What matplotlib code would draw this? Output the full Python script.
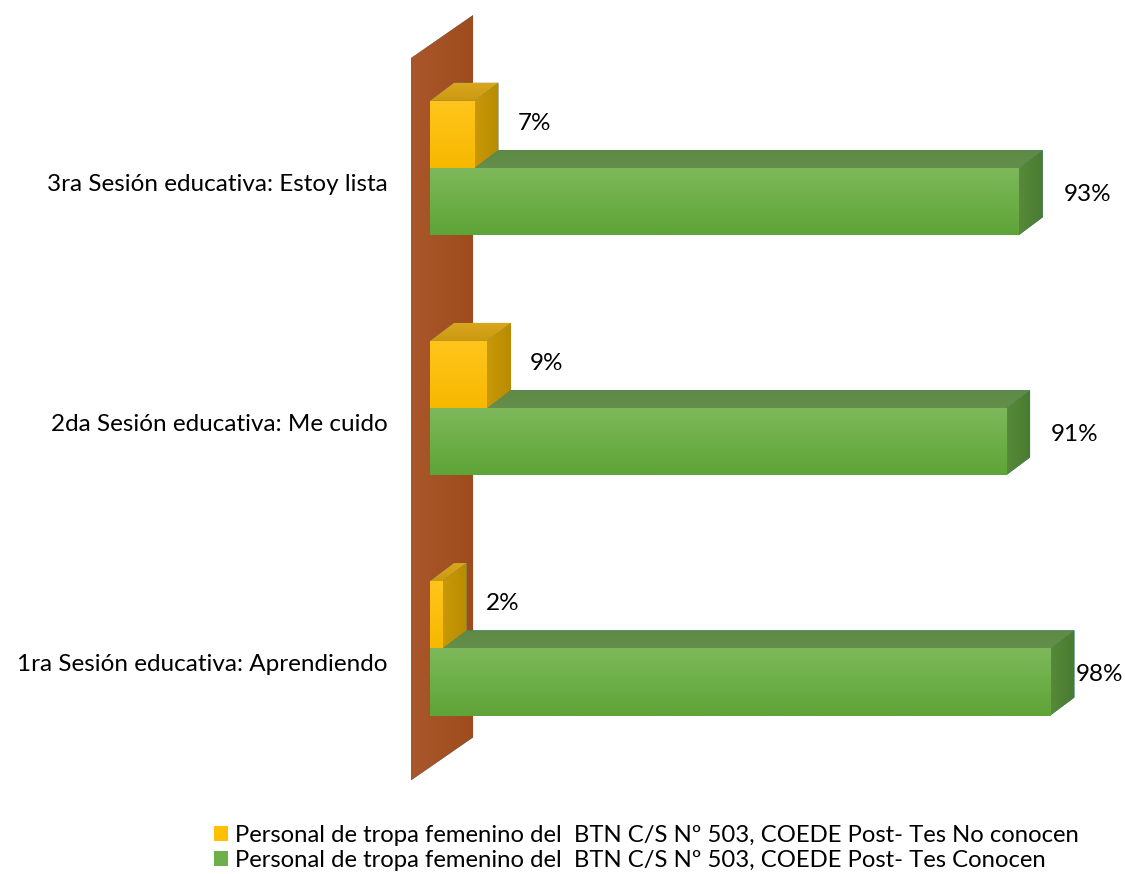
import numpy as np
import matplotlib.pyplot as plt
from matplotlib.patches import Polygon, Patch
from matplotlib.colors import LinearSegmentedColormap

# --- data ---
categories = ["1ra Sesión educativa: Aprendiendo",
              "2da Sesión educativa: Me cuido",
              "3ra Sesión educativa: Estoy lista"]
no_conocen = [2, 9, 7]
conocen = [98, 91, 93]
series_labels = ["Personal de tropa femenino del  BTN C/S Nº 503, COEDE Post- Tes No conocen",
                 "Personal de tropa femenino del  BTN C/S Nº 503, COEDE Post- Tes Conocen"]

plt.rcParams['font.family'] = ['Lato', 'DejaVu Sans']

W, H = 1125, 874
fig = plt.figure(figsize=(W / 100, H / 100), dpi=100)
ax = fig.add_axes([411 / W, 0, 1 - 411 / W, 1])

XMIN, XMAX = -3.0, 109.8
YMIN, YMAX = -0.94, 2.70
bar_h = 0.28
dx, dy = 3.8, 0.075          # depth of the bars
wall_dx, wall_dy = 9.8, 0.179  # depth of the side wall
label_max = 102.0            # keep value labels inside the figure


def shade(patch, c1, c2, z, vertical=True):
    """fill a patch with a linear gradient (c1 top/left -> c2 bottom/right)"""
    patch.set_zorder(z)
    ax.add_patch(patch)
    if isinstance(patch, Polygon):
        verts = patch.get_xy()
    else:
        verts = ax.transData.inverted().transform(patch.get_verts())
    xs, ys = verts[:, 0], verts[:, 1]
    cmap = LinearSegmentedColormap.from_list('g', [c1, c2])
    g = np.linspace(0, 1, 64)
    grad = g.reshape(-1, 1) if vertical else g.reshape(1, -1)
    im = ax.imshow(grad, cmap=cmap, extent=(xs.min(), xs.max(), ys.min(), ys.max()),
                   origin='upper', aspect='auto', zorder=z + 0.01, interpolation='bilinear')
    im.set_clip_path(patch)


def box(y0, v, top, side, z):
    # top face
    shade(Polygon([(0, y0 + bar_h), (v, y0 + bar_h), (v + dx, y0 + bar_h + dy),
                   (dx, y0 + bar_h + dy)], closed=True, lw=0), top[0], top[1], z)
    # side face
    shade(Polygon([(v, y0), (v, y0 + bar_h), (v + dx, y0 + bar_h + dy),
                   (v + dx, y0 + dy)], closed=True, lw=0), side[0], side[1], z, vertical=False)


# side wall (value axis at 0)
wall = Polygon([(XMIN, -0.55), (XMIN, 2.458), (XMIN + wall_dx, 2.458 + wall_dy),
                (XMIN + wall_dx, -0.55 + wall_dy)], closed=True, lw=0)
shade(wall, '#AA582B', '#9E4C1E', 1, vertical=False)

ypos = np.arange(len(categories))

# green bars (below the category line)
for i, v in enumerate(conocen):
    box(i - bar_h, v, ('#5C8A45', '#658F4B'), ('#578A3A', '#4A7A30'), 2)
green = ax.barh(ypos - bar_h / 2, conocen, height=bar_h, left=0, color='#6DAF48', lw=0, zorder=3)
for r in green:
    shade(r, '#7DB95B', '#5EA437', 3)

# yellow bars (above the category line)
for i, v in enumerate(no_conocen):
    box(i, v, ('#D9A61C', '#CC9A10'), ('#C89A08', '#B88A00'), 4)
yellow = ax.barh(ypos + bar_h / 2, no_conocen, height=bar_h, left=0, color='#FFC000', lw=0, zorder=5)
for r in yellow:
    shade(r, '#FFC51C', '#F7B800', 5)

# value labels
for i, (a, b) in enumerate(zip(no_conocen, conocen)):
    ax.text(a + dx + 3.0, i + bar_h / 2 + dy * 0.6, f"{a}%", ha='left', va='center',
            fontsize=17.5, zorder=6)
    ax.text(min(b + dx + 3.3, label_max), i - bar_h / 2 + dy * 0.4, f"{b}%", ha='left',
            va='center', fontsize=17.5, zorder=6)

ax.set_xlim(XMIN, XMAX)
ax.set_ylim(YMIN, YMAX)
ax.set_yticks(ypos - 0.06)
ax.set_yticklabels(categories, fontsize=17.5)
ax.tick_params(axis='y', length=0, pad=17)
ax.set_xticks([])
for s in ax.spines.values():
    s.set_visible(False)
ax.patch.set_alpha(0)

handles = [Patch(facecolor='#FFC000', label=series_labels[0]),
           Patch(facecolor='#6DAF48', label=series_labels[1])]
fig.legend(handles=handles, loc='upper left', bbox_to_anchor=(214 / W, 1 - 825 / H),
           frameon=False, fontsize=17.2, handlelength=0.6, handleheight=0.6,
           handletextpad=0.3, labelspacing=0.18, borderpad=0, borderaxespad=0)

fig.savefig('out.png', dpi=100)
